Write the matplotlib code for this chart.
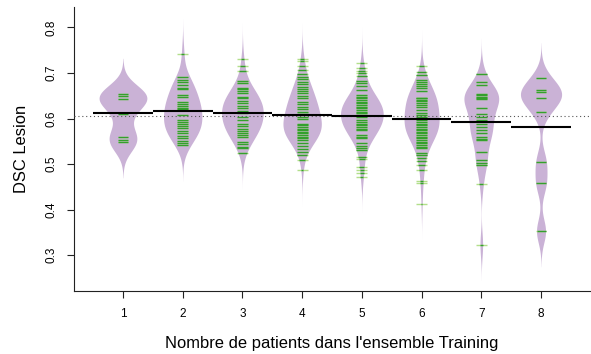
import matplotlib.pyplot as plt
import numpy as np

# DSC values per bean (number of training patients 1..8), read off the beanlines,
# with the number of overlapping lines at each value
v1 = [0.654, 0.649, 0.643, 0.609, 0.559, 0.553, 0.548]
n1 = [1, 2, 2, 1, 1, 1, 1]

v2 = [0.741, 0.690, 0.684, 0.679, 0.674, 0.668, 0.664, 0.652, 0.648, 0.636,
      0.631, 0.627, 0.624, 0.620, 0.608, 0.597, 0.593, 0.588, 0.584, 0.579,
      0.573, 0.568, 0.562, 0.557, 0.551, 0.546, 0.541]
n2 = [1, 1, 1, 1, 1, 1, 2, 2, 1, 1,
      2, 2, 2, 2, 2, 2, 2, 2, 1, 2,
      2, 1, 1, 1, 1, 1, 1]

v3 = [0.731, 0.715, 0.705, 0.683, 0.677, 0.668, 0.664, 0.660, 0.657, 0.648,
      0.644, 0.638, 0.633, 0.627, 0.622, 0.617, 0.611, 0.604, 0.597, 0.589,
      0.584, 0.578, 0.573, 0.569, 0.564, 0.559, 0.549, 0.544, 0.538, 0.535,
      0.524]
n3 = [1, 1, 1, 1, 1, 2, 2, 2, 2, 3,
      3, 3, 4, 4, 4, 4, 4, 4, 4, 4,
      4, 3, 3, 3, 2, 2, 2, 1, 1, 1,
      1]

v4 = [0.731, 0.727, 0.715, 0.706, 0.698, 0.692, 0.686, 0.680, 0.676, 0.670,
      0.664, 0.660, 0.655, 0.649, 0.644, 0.637, 0.632, 0.626, 0.620, 0.615,
      0.610, 0.604, 0.598, 0.589, 0.586, 0.582, 0.578, 0.575, 0.571, 0.568,
      0.564, 0.560, 0.557, 0.553, 0.546, 0.540, 0.534, 0.527, 0.520, 0.509,
      0.487]
n4 = [1, 1, 1, 1, 1, 1, 1, 2, 2, 2,
      2, 2, 3, 3, 3, 3, 4, 4, 4, 4,
      4, 4, 4, 4, 4, 4, 4, 4, 4, 3,
      3, 3, 3, 2, 2, 2, 1, 1, 1, 1,
      1]

v5 = [0.722, 0.710, 0.705, 0.699, 0.693, 0.683, 0.677, 0.671, 0.663, 0.652,
      0.648, 0.644, 0.641, 0.637, 0.633, 0.630, 0.626, 0.622, 0.619, 0.615,
      0.611, 0.608, 0.604, 0.597, 0.593, 0.589, 0.586, 0.582, 0.578, 0.575,
      0.564, 0.560, 0.557, 0.546, 0.540, 0.535, 0.531, 0.516, 0.511, 0.494,
      0.487, 0.480, 0.472]
n5 = [1, 1, 1, 1, 1, 1, 2, 2, 2, 3,
      3, 3, 3, 3, 3, 4, 4, 4, 4, 4,
      4, 4, 4, 4, 4, 4, 4, 4, 4, 4,
      3, 3, 3, 2, 1, 1, 1, 1, 1, 1,
      1, 1, 1]

v6 = [0.716, 0.701, 0.695, 0.684, 0.680, 0.676, 0.671, 0.666, 0.661, 0.646,
      0.644, 0.641, 0.638, 0.635, 0.630, 0.625, 0.619, 0.613, 0.608, 0.603,
      0.597, 0.593, 0.589, 0.586, 0.582, 0.578, 0.575, 0.571, 0.568, 0.564,
      0.560, 0.557, 0.553, 0.549, 0.546, 0.542, 0.538, 0.535, 0.525, 0.519,
      0.513, 0.507, 0.497, 0.486, 0.463, 0.458, 0.413]
n6 = [1, 1, 1, 1, 1, 1, 3, 3, 3, 3,
      3, 3, 3, 3, 2, 3, 3, 3, 3, 3,
      3, 3, 3, 3, 3, 3, 2, 2, 2, 2,
      2, 2, 2, 1, 1, 1, 1, 1, 1, 1,
      1, 1, 1, 1, 1, 1, 1]

v7 = [0.698, 0.680, 0.673, 0.654, 0.651, 0.648, 0.645, 0.642, 0.622, 0.609,
      0.603, 0.597, 0.589, 0.581, 0.575, 0.569, 0.560, 0.556, 0.553, 0.526,
      0.508, 0.503, 0.498, 0.456, 0.323]
n7 = [1, 1, 1, 2, 2, 2, 2, 2, 2, 1,
      1, 1, 1, 1, 1, 1, 1, 1, 1, 1,
      1, 1, 1, 1, 1]

v8 = [0.688, 0.663, 0.658, 0.645, 0.615, 0.505, 0.458, 0.353]
n8 = [1, 1, 1, 2, 1, 1, 1, 1]

values = [v1, v2, v3, v4, v5, v6, v7, v8]
counts = [n1, n2, n3, n4, n5, n6, n7, n8]
labels = ['1', '2', '3', '4', '5', '6', '7', '8']

bw = 0.026        # common bandwidth for all beans
cut = 3
maxwidth = 0.8
ll = 0.09         # half length of beanlines

col_bean = '#CAB2D6'
col_in = '#33A02C'
col_out = '#B2DF8A'

plt.rcParams['font.family'] = ['Liberation Sans', 'DejaVu Sans']

fig = plt.figure(figsize=(5.91, 3.54), dpi=100)
ax = fig.add_axes([74 / 591, 63 / 354, 516 / 591, 283.7 / 354])

beans = [np.repeat(v, n) for v, n in zip(values, counts)]

# densities, one common scale for all beans
dens = []
for b in beans:
    y = np.linspace(b.min() - cut * bw, b.max() + cut * bw, 400)
    d = np.exp(-0.5 * ((y[:, None] - b[None, :]) / bw) ** 2).sum(axis=1)
    d = d / (len(b) * bw * np.sqrt(2 * np.pi))
    dens.append((y, d))
scale = (maxwidth / 2) / max(d.max() for y, d in dens)

overall = np.mean(np.concatenate(beans))

for i, b in enumerate(beans):
    pos = i + 1
    y, d = dens[i]
    hw = d * scale
    ax.fill_betweenx(y, pos - hw, pos + hw, color=col_bean, lw=0, zorder=1)
    v = np.asarray(values[i])
    inner = np.minimum(np.interp(v, y, hw), ll)
    ax.hlines(v, pos - ll, pos + ll, colors=col_out, lw=1.0, zorder=2)
    ax.hlines(v, pos - inner, pos + inner, colors=col_in, lw=1.0, zorder=3)
    ax.hlines(b.mean(), pos - 0.5, pos + 0.5, colors='black', lw=1.5, zorder=5)

ax.axhline(overall, color='#555555', lw=0.8, ls=(0, (1, 2.5)), zorder=4)

ax.set_xlim(0.18, 8.82)
ax.set_ylim(0.2217, 0.8439)
ax.set_xticks(range(1, 9))
ax.set_xticklabels(labels)
ax.set_yticks([0.3, 0.4, 0.5, 0.6, 0.7, 0.8])
ax.set_yticklabels(['0.3', '0.4', '0.5', '0.6', '0.7', '0.8'], rotation=90, va='center')
ax.tick_params(direction='out', length=5, width=0.8, labelsize=8.5, pad=7, color='#222222')
ax.spines['top'].set_visible(False)
ax.spines['right'].set_visible(False)
ax.spines['left'].set_linewidth(0.8)
ax.spines['bottom'].set_linewidth(0.8)
ax.spines['left'].set_color('#222222')
ax.spines['bottom'].set_color('#222222')

ax.set_xlabel("Nombre de patients dans l'ensemble Training", fontsize=11.9)
ax.set_ylabel('DSC Lesion', fontsize=11.9)
ax.xaxis.set_label_coords(0.5, -0.16)
ax.yaxis.set_label_coords(-0.088, 0.5)

fig.savefig('out.png', dpi=100)
